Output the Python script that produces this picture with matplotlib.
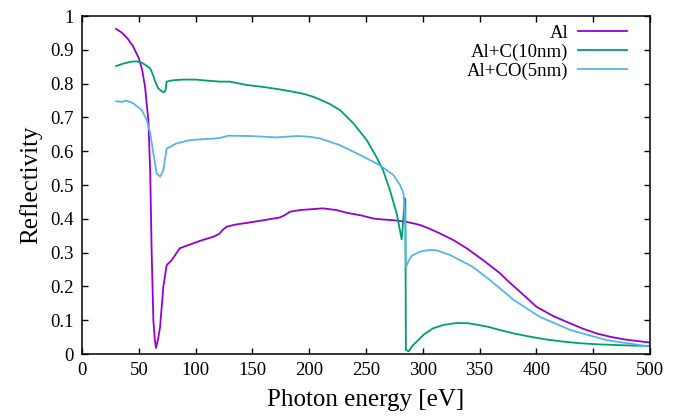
import matplotlib
matplotlib.use("Agg")
import matplotlib.pyplot as plt

plt.rcParams["font.family"] = ["Liberation Serif", "DejaVu Serif"]

# Al (bare)
al_x = [30, 35, 40, 45, 50, 53, 55.5, 58.4, 60, 61.3, 62.8, 64, 65.1, 67, 68.7,
        71.6, 74.5, 79, 86, 95, 104, 115.6, 121, 124, 127.4, 135, 145, 160, 174,
        178, 183, 192, 203.6, 212, 224, 233, 246, 256.4, 265, 274, 285.8, 297.5,
        305, 315, 327, 338.6, 353, 368, 374, 387, 400, 415, 429.6, 441, 453, 465,
        478, 490, 500]
al_y = [0.962, 0.951, 0.934, 0.91, 0.875, 0.84, 0.79, 0.69, 0.54, 0.30, 0.10,
        0.045, 0.018, 0.045, 0.08, 0.2, 0.263, 0.278, 0.313, 0.324, 0.335, 0.347,
        0.356, 0.368, 0.377, 0.383, 0.388, 0.396, 0.404, 0.41, 0.421, 0.426,
        0.429, 0.431, 0.426, 0.418, 0.41, 0.401, 0.398, 0.396, 0.391, 0.382,
        0.372, 0.357, 0.337, 0.313, 0.278, 0.239, 0.219, 0.18, 0.14, 0.112,
        0.091, 0.075, 0.061, 0.051, 0.043, 0.038, 0.034]

# Al + C (10 nm)
c_x = [30, 37, 43.7, 48, 52.5, 56, 60, 62, 64, 67, 70, 72, 73.5, 74.5, 80, 89,
       100, 110, 121.5, 130, 145, 160, 174, 186, 196, 203.6, 209.5, 218, 227,
       239, 250.6, 259, 265, 271, 277, 281.4, 284.2, 284.6, 285.1, 287.5, 291,
       294.6, 301, 309, 318, 330, 340, 347.5, 358, 368, 380, 395, 409, 423, 438,
       453, 468, 484, 500]
c_y = [0.852, 0.86, 0.865, 0.866, 0.862, 0.855, 0.845, 0.83, 0.81, 0.786, 0.778,
       0.774, 0.78, 0.806, 0.81, 0.812, 0.812, 0.809, 0.806, 0.806, 0.796, 0.79,
       0.783, 0.776, 0.769, 0.761, 0.753, 0.74, 0.722, 0.682, 0.633, 0.584,
       0.544, 0.485, 0.416, 0.339, 0.46, 0.46, 0.012, 0.008, 0.025, 0.037,
       0.058, 0.076, 0.086, 0.092, 0.091, 0.087, 0.08, 0.071, 0.061, 0.051,
       0.043, 0.037, 0.032, 0.029, 0.027, 0.025, 0.024]

# Al + CO (5 nm)
co_x = [30, 35, 39, 45, 52.5, 57, 60, 62.8, 65.7, 68.7, 71.6, 74.5, 83, 95, 104,
        118.6, 122, 128.8, 148, 160, 171.4, 180, 189, 200, 209.5, 227, 244.7,
        262, 274, 280, 283, 284.5, 285.2, 287, 290, 297.5, 306, 312, 324, 344,
        359, 368, 380, 403, 430, 462, 500]
co_y = [0.748, 0.746, 0.75, 0.742, 0.722, 0.692, 0.653, 0.594, 0.534, 0.525,
        0.544, 0.608, 0.623, 0.633, 0.635, 0.638, 0.64, 0.646, 0.645, 0.643,
        0.641, 0.643, 0.645, 0.643, 0.638, 0.618, 0.589, 0.559, 0.53, 0.5,
        0.475, 0.40, 0.258, 0.272, 0.29, 0.303, 0.308, 0.307, 0.293, 0.258,
        0.219, 0.194, 0.16, 0.11, 0.071, 0.041, 0.022]

fig = plt.figure(figsize=(6.78, 4.18), dpi=100)
ax = fig.add_axes([0.121, 0.153, 0.8377, 0.8086])

ax.plot(al_x, al_y, color="#9400d3", lw=1.3, label="Al")
ax.plot(c_x, c_y, color="#009e73", lw=1.3, label="Al+C(10nm)")
ax.plot(co_x, co_y, color="#56b4e9", lw=1.3, label="Al+CO(5nm)")

ax.set_xlim(0, 500)
ax.set_ylim(0, 1)
ax.set_xticks(range(0, 501, 50))
ax.set_yticks([0, 0.1, 0.2, 0.3, 0.4, 0.5, 0.6, 0.7, 0.8, 0.9, 1])
ax.set_yticklabels(["0", "0.1", "0.2", "0.3", "0.4", "0.5", "0.6", "0.7",
                    "0.8", "0.9", "1"])
ax.tick_params(direction="in", length=4.5, width=1, top=True, right=True,
               labelsize=13.5, pad=6)
for s in ax.spines.values():
    s.set_linewidth(1.1)

ax.set_xlabel("Photon energy [eV]", fontsize=18, labelpad=7)
ax.set_ylabel("Reflectivity", fontsize=18, labelpad=6)

ax.legend(loc="upper right", markerfirst=False, frameon=False, fontsize=13.5,
          handlelength=2.6, handletextpad=0.5, labelspacing=0.1,
          borderaxespad=0.0, bbox_to_anchor=(0.972, 0.997))

fig.savefig("out.png", dpi=100)
